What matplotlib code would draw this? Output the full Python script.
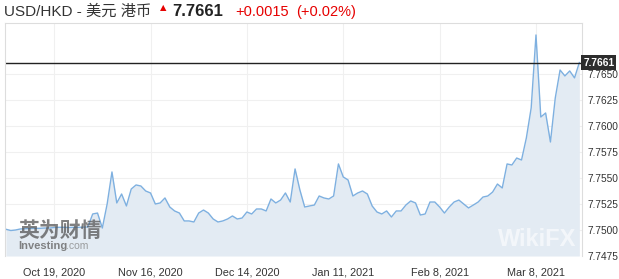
import matplotlib
matplotlib.use("Agg")
import matplotlib.pyplot as plt
import numpy as np

# daily USD/HKD closes, 5 Oct 2020 .. 19 Mar 2021 (trading days)
rates = [
    7.75007, 7.74995, 7.75000, 7.75010, 7.75012, 7.75014, 7.75016, 7.75016, 7.75019, 7.75019,
    7.75024, 7.75026, 7.75026, 7.75024, 7.75026, 7.75026, 7.75027, 7.75029, 7.75154, 7.75163,
    7.75019, 7.75250, 7.75558, 7.75260, 7.75346, 7.75231, 7.75394, 7.75433, 7.75423, 7.75375,
    7.75356, 7.75250, 7.75260, 7.75308, 7.75221, 7.75183, 7.75163, 7.75087, 7.75087, 7.75077,
    7.75163, 7.75192, 7.75163, 7.75106, 7.75077, 7.75087, 7.75106, 7.75135, 7.75106, 7.75115,
    7.75173, 7.75154, 7.75202, 7.75202, 7.75183, 7.75298, 7.75260, 7.75288, 7.75356, 7.75269,
    7.75587, 7.75385, 7.75221, 7.75231, 7.75240, 7.75327, 7.75308, 7.75298, 7.75327, 7.75635,
    7.75510, 7.75481, 7.75327, 7.75356, 7.75375, 7.75346, 7.75231, 7.75173, 7.75154, 7.75183,
    7.75125, 7.75183, 7.75183, 7.75240, 7.75279, 7.75260, 7.75144, 7.75154, 7.75269, 7.75269,
    7.75221, 7.75163, 7.75221, 7.75269, 7.75288, 7.75250, 7.75212, 7.75240, 7.75269, 7.75317,
    7.75327, 7.75365, 7.75442, 7.75404, 7.75635, 7.75625, 7.75692, 7.75673, 7.75885, 7.76173,
    7.76875, 7.76086, 7.76125, 7.75846, 7.76269, 7.76538, 7.76481, 7.76529, 7.76462, 7.7661,
]
tick_idx = [10, 30, 50, 70, 90, 110]
tick_labels = ["Oct 19, 2020", "Nov 16, 2020", "Dec 14, 2020", "Jan 11, 2021", "Feb 8, 2021", "Mar 8, 2021"]
y_ticks = [7.7475, 7.7500, 7.7525, 7.7550, 7.7575, 7.7600, 7.7625, 7.7650]
last = 7.7661
change = "+0.0015"
change_pct = "(+0.02%)"

latin = ["Liberation Sans", "Noto Sans CJK SC", "DejaVu Sans"]
plt.rcParams["font.family"] = latin

W, H = 619, 279
fig = plt.figure(figsize=(W / 100, H / 100), dpi=100)
ax = fig.add_axes([5 / W, 1 - 256 / H, 577 / W, 233 / H])

x = np.arange(len(rates))
ax.fill_between(x, rates, 7.7475, color="#e3ebf3", lw=0)
ax.plot(x, rates, color="#7eb0e0", lw=1)
ax.axhline(last, color="#222222", lw=1)

ax.set_xlim(-0.2, len(rates) - 0.45)
ax.set_ylim(7.7475, 7.7699)
ax.set_xticks(tick_idx)
ax.set_xticklabels(tick_labels, fontsize=7.8)
ax.set_yticks(y_ticks)
ax.set_yticklabels(["%.4f" % v for v in y_ticks], fontsize=7.3)
ax.yaxis.tick_right()
ax.tick_params(axis="both", length=0, colors="#333333")
ax.tick_params(axis="x", pad=8)
ax.tick_params(axis="y", pad=4)
ax.grid(True, color="#f0f0f0", lw=0.8)
ax.set_axisbelow(True)
for side in ["left", "top", "right"]:
    ax.spines[side].set_color("#dddddd")
    ax.spines[side].set_linewidth(0.8)
ax.spines["bottom"].set_visible(False)

# last price badge on the right axis
ax.text(1.002, last, "%.4f" % last, transform=ax.get_yaxis_transform(), ha="left", va="center",
        fontsize=7.3, color="white", fontweight="bold",
        bbox=dict(boxstyle="square,pad=0.2", fc="#2d2d2d", ec="none"))

# header
fig.text(4 / W, 1 - 12 / H, "USD/HKD - 美元 港币", fontsize=11, color="#333333", va="center")
fig.text(160 / W, 1 - 8 / H, "▲", fontsize=6, color="#e60000", va="center", family="DejaVu Sans")
fig.text(172 / W, 1 - 12 / H, "%.4f" % last, fontsize=12, color="#222222", fontweight="bold", va="center")
fig.text(235 / W, 1 - 12 / H, change, fontsize=10.5, color="#e60000", va="center")
fig.text(296 / W, 1 - 12 / H, change_pct, fontsize=10.5, color="#e60000", va="center")

# watermarks
fig.text(18 / W, 1 - 230 / H, "英为财情", fontsize=15, color="#555555", alpha=0.75,
         fontweight="bold", va="center", family="Noto Sans CJK SC")
fig.text(18 / W, 1 - 246 / H, "Investing", fontsize=8, color="#666666", alpha=0.8,
         fontweight="bold", va="center")
fig.text(66 / W, 1 - 246 / H, ".com", fontsize=7.5, color="#888888", alpha=0.8, va="center")
fig.text(498 / W, 1 - 240 / H, "WikiFX", fontsize=17, color="white", alpha=0.6,
         fontweight="bold", va="center")

fig.savefig("out.png", dpi=100)
